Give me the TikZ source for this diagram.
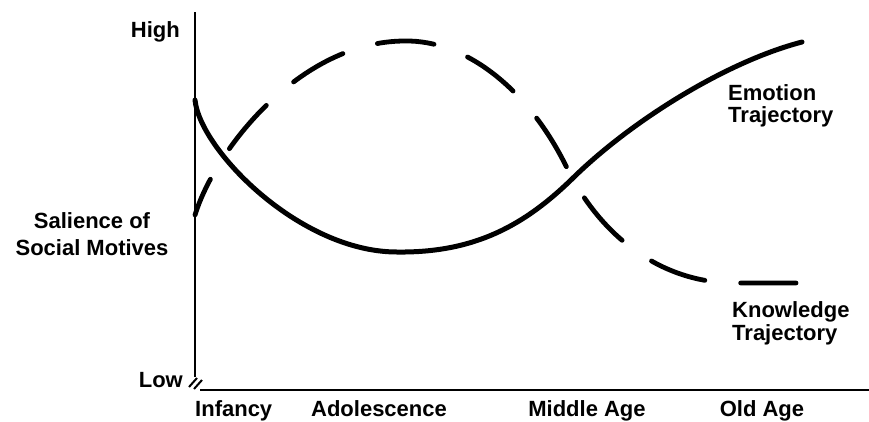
\documentclass[tikz,border=0pt]{standalone}
\usepackage{fontspec}
\setmainfont{Liberation Sans}
\begin{document}
\begin{tikzpicture}[x=1pt,y=-1pt,
  lbl/.style={font=\bfseries\fontsize{22}{27}\selectfont, inner sep=0pt},
  axisline/.style={line width=2.4pt},
  breakmark/.style={line width=2pt},
  emotion/.style={line width=5pt, line cap=round},
  knowledge/.style={line width=4.8pt, line cap=round,
    dash pattern=on 57pt off 36pt, dash phase=18pt}]
\useasboundingbox (0,0) rectangle (869,421);

% axes with a break at the origin
\coordinate (ytop) at (195,12);
\coordinate (ybot) at (195,377);
\coordinate (xleft) at (200,390);
\coordinate (xright) at (869,390);
\draw[axisline] (ytop) -- (ybot);
\draw[axisline] (xleft) -- (xright);
\coordinate (b1a) at (189,387); \coordinate (b1b) at (197,378);
\coordinate (b2a) at (194,389); \coordinate (b2b) at (202,380);
\draw[breakmark] (b1a) -- (b1b);
\draw[breakmark] (b2a) -- (b2b);

% axis labels (multi-line nodes sit on the baseline of their last line)
\node[lbl, anchor=base east] (high) at (180,37) {High};
\node[lbl, anchor=base east] (low) at (183,387) {Low};
\node[lbl, anchor=base, align=center] (ylab) at (92,255) {Salience of\\Social Motives};

\node[lbl, anchor=base west] (infancy) at (195,416) {Infancy};
\node[lbl, anchor=base] (adol) at (379,416) {Adolescence};
\node[lbl, anchor=base] (middle) at (587,416) {Middle Age};
\node[lbl, anchor=base] (old) at (762,416) {Old Age};

% emotion trajectory
\coordinate (e0) at (195,100);
\coordinate (emin) at (397,252);
\coordinate (ex) at (573,178);
\coordinate (e1) at (802,42);
\draw[emotion] (e0) .. controls (200,150) and (300,252) .. (emin)
  .. controls (475,253) and (525,225) .. (ex)
  .. controls (630,122) and (725,62) .. (e1);
\node[lbl, anchor=base west, align=left, font=\bfseries\fontsize{22}{21.5}\selectfont] (emo) at (728,122) {Emotion\\Trajectory};

% knowledge trajectory
\coordinate (k0) at (195,215);
\coordinate (kmax) at (405,41);
\coordinate (kx) at (567,168);
\coordinate (kflat) at (735,283);
\coordinate (k1) at (796,283);
\draw[knowledge] (k0) .. controls (215,150) and (300,41) .. (kmax)
  .. controls (465,40) and (528,88) .. (kx)
  .. controls (600,235) and (660,283) .. (kflat) -- (k1);
\node[lbl, anchor=base west, align=left, font=\bfseries\fontsize{22}{23}\selectfont] (know) at (732,340) {Knowledge\\Trajectory};
\end{tikzpicture}
\end{document}
